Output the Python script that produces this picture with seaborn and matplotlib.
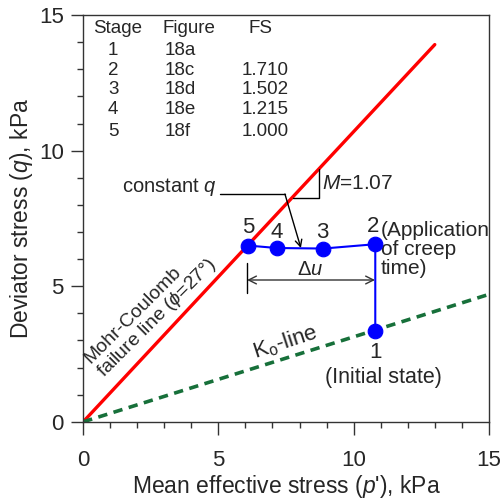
import matplotlib
matplotlib.use("Agg")
import matplotlib.pyplot as plt
import seaborn as sns
import numpy as np
import pandas as pd

# Stress path (stages 1-5)
stage_labels = ["1", "2", "3", "4", "5"]
path_p = [10.8, 10.8, 8.88, 7.15, 6.1]
path_q = [3.35, 6.55, 6.39, 6.41, 6.5]

# Failure line slope and K0 line end point
M = 1.07
fail_p = [0.0, 13.0]
k0_p = [0.0, 15.0]
k0_q = [0.0, 4.7]

# Summary table
tbl_stage = ["1", "2", "3", "4", "5"]
tbl_figure = ["18a", "18c", "18d", "18e", "18f"]
tbl_fs = ["", "1.710", "1.502", "1.215", "1.000"]

x_ticks = [0, 5, 10, 15]
y_ticks = [0, 5, 10, 15]

sns.set_theme(style="ticks")
plt.rcParams["font.family"] = ["Liberation Sans", "DejaVu Sans"]
plt.rcParams["mathtext.fontset"] = "custom"
plt.rcParams["mathtext.it"] = "Liberation Sans:italic"
plt.rcParams["mathtext.rm"] = "Liberation Sans"

fig = plt.figure(figsize=(5.04, 5.01), dpi=100)
ax = fig.add_axes([0.165, 0.158, 0.805, 0.812])

fail_q = [M * v for v in fail_p]
sns.lineplot(x=fail_p, y=fail_q, ax=ax, color="#ff0000", lw=2.4, sort=False,
             estimator=None)
sns.lineplot(x=k0_p, y=k0_q, ax=ax, color="#17703a", lw=2.6, sort=False,
             estimator=None, linestyle=(0, (2.6, 1.8)))
df = pd.DataFrame({"p": path_p, "q": path_q})
sns.lineplot(data=df, x="p", y="q", ax=ax, color="#0000ff", lw=1.5, sort=False,
             estimator=None)
sns.scatterplot(data=df, x="p", y="q", ax=ax, color="#0000ff", s=110,
                edgecolor="#0000ff", zorder=5)

ax.set_xlim(0, 15)
ax.set_ylim(0, 15)
ax.set_xticks(x_ticks)
ax.set_yticks(y_ticks)
ax.set_xticks(np.arange(0, 16, 1), minor=True)
ax.set_yticks(np.arange(0, 16, 1), minor=True)
ax.tick_params(which="major", length=9, width=1, labelsize=16, color="#333333")
ax.tick_params(which="minor", length=4.5, width=1, color="#333333")
ax.tick_params(axis="x", which="major", pad=11)
ax.tick_params(axis="y", which="major", pad=5)
for s in ax.spines.values():
    s.set_color("#333333")
    s.set_linewidth(1.0)
ax.set_xlabel("Mean effective stress ($p$'), kPa", fontsize=16.5, labelpad=2)
ax.set_ylabel("Deviator stress ($q$), kPa", fontsize=16.5, labelpad=3)

# Stage labels near the points
lbl_off = [(0.0, -0.78), (-0.1, 0.64), (-0.05, 0.6), (0.02, 0.56), (0.0, 0.65)]
for lab, x, y, (dx, dy) in zip(stage_labels, path_p, path_q, lbl_off):
    ax.text(x + dx, y + dy, lab, fontsize=16, ha="center", va="center")

ax.text(11.0, 6.34, "(Application\nof creep\ntime)", fontsize=15, ha="left",
        va="center", linespacing=1.0)
ax.text(11.1, 1.62, "(Initial state)", fontsize=15.5, ha="center", va="center")

# Table
row_y = [13.71, 12.97, 12.24, 11.5, 10.72]
ax.text(1.29, 14.49, "Stage", fontsize=13.5, ha="center", va="center")
ax.text(2.92, 14.49, "Figure", fontsize=13.5, ha="left", va="center")
ax.text(6.54, 14.49, "FS", fontsize=13.5, ha="center", va="center")
for st, fg, fs, y in zip(tbl_stage, tbl_figure, tbl_fs, row_y):
    ax.text(1.11, y, st, fontsize=13.5, ha="center", va="center")
    ax.text(3.03, y, fg, fontsize=13.5, ha="left", va="center")
    ax.text(6.72, y, fs, fontsize=13.5, ha="center", va="center")

# Slope triangle
ax.plot([7.76, 8.72, 8.72], [8.26, 8.26, 9.33], color="black", lw=1.0)
ax.text(8.83, 8.77, "$M$=1.07", fontsize=15, ha="left", va="center")

# constant q leader
ax.text(1.44, 8.66, "constant $q$", fontsize=14.5, ha="left", va="center")
ax.plot([5.06, 7.46], [8.4, 8.4], color="black", lw=1.0)
ax.annotate("", xy=(8.05, 6.41), xytext=(7.46, 8.4),
            arrowprops=dict(arrowstyle="->", color="black", lw=1.0,
                            shrinkA=0, shrinkB=0, mutation_scale=12))

# Delta u dimension
ax.plot([6.06, 6.06], [4.75, 5.86], color="black", lw=1.0)
ax.annotate("", xy=(10.79, 5.23), xytext=(6.06, 5.23),
            arrowprops=dict(arrowstyle="<->", color="#333333", lw=1.0,
                            shrinkA=0, shrinkB=0, mutation_scale=14))
ax.text(8.39, 5.6, r"$\Delta u$", fontsize=14.5, ha="center", va="center")

# Line labels
ax.text(2.5, 4.05, "Mohr-Coulomb\nfailure line ($\\phi$=27°)", fontsize=14,
        rotation=45, ha="center", va="center", multialignment="left",
        linespacing=1.0, rotation_mode="default")
ax.text(7.46, 2.93, "K$_{\\rm o}$-line", fontsize=16, rotation=18,
        ha="center", va="center")

fig.savefig("out.png", dpi=100)
